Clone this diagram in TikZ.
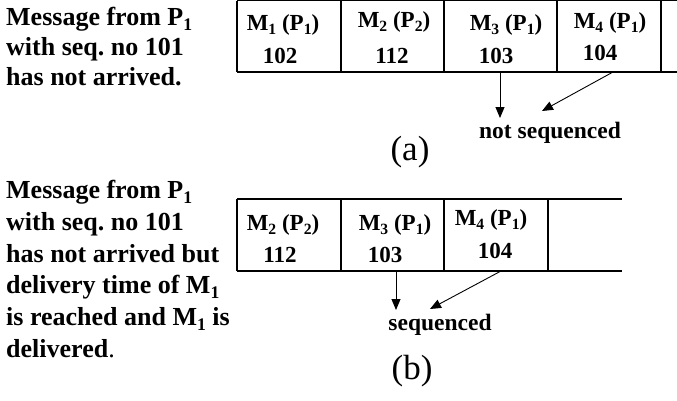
\documentclass[tikz,border=0pt]{standalone}
\usepackage{fontspec}
\usepackage{graphicx}
\setmainfont{Liberation Serif}
\usetikzlibrary{arrows.meta}
\newcommand\sbs[1]{\raisebox{-0.2em}{\scalebox{0.68}{#1}}}
\frenchspacing
\begin{document}
\begin{tikzpicture}[x=1pt,y=-1pt,
  lefttext/.style={anchor=base west,inner sep=0pt,font=\fontsize{26}{30}\selectfont\bfseries},
  celltext/.style={anchor=base,inner sep=0pt,font=\fontsize{23}{27}\selectfont\bfseries},
  labeltext/.style={anchor=base,inner sep=0pt,font=\fontsize{23.5}{27}\selectfont\bfseries},
  captext/.style={anchor=base,inner sep=0pt,font=\fontsize{35}{40}\selectfont},
  tableline/.style={line width=1.1pt},
  arr/.style={line width=0.9pt,-{Triangle[length=11pt,width=9pt]}}]
\useasboundingbox (0,0) rectangle (677,400);

% ---------- (a) ----------
\node[lefttext] (ta1) at (6,25) {Message from P\sbs{1}};
\node[lefttext] (ta2) at (6,55) {with seq. no 101};
\node[lefttext] (ta3) at (6,85) {has not arrived.};

\draw[tableline] (237,0.8) -- (677,0.8);
\draw[tableline] (237,72) -- (677,72);
\foreach \x in {237,341,444,557,661} \draw[tableline] (\x,0.8) -- (\x,72);

\node[celltext] (a1m) at (283,30) {M\sbs{1} (P\sbs{1})};
\node[celltext] (a1n) at (280,63) {102};
\node[celltext] (a2m) at (394,27) {M\sbs{2} (P\sbs{2})};
\node[celltext] (a2n) at (392,63) {112};
\node[celltext] (a3m) at (506,30) {M\sbs{3} (P\sbs{1})};
\node[celltext] (a3n) at (496,63) {103};
\node[celltext] (a4m) at (610,28) {M\sbs{4} (P\sbs{1})};
\node[celltext] (a4n) at (600,60) {104};

\coordinate (a3b) at (500,72);
\coordinate (a4b) at (613,72);
\node[labeltext] (ans) at (550,138) {not sequenced};
\coordinate (ansA) at (500,118);
\coordinate (ansB) at (542,111);
\draw[arr] (a3b) -- (ansA);
\draw[arr] (a4b) -- (ansB);

\node[captext] (capa) at (410,160) {(a)};

% ---------- (b) ----------
\node[lefttext] (tb1) at (6,198) {Message from P\sbs{1}};
\node[lefttext] (tb2) at (6,230) {with seq. no 101};
\node[lefttext] (tb3) at (6,262) {has not arrived but};
\node[lefttext] (tb4) at (6,293) {delivery time of M\sbs{1}};
\node[lefttext] (tb5) at (6,325) {is reached and M\sbs{1} is};
\node[lefttext] (tb6) at (6,357) {delivered\mdseries.};

\draw[tableline] (237,199) -- (622,199);
\draw[tableline] (237,271) -- (622,271);
\foreach \x in {237,341,444,548} \draw[tableline] (\x,199) -- (\x,271);

\node[celltext] (b1m) at (283,230) {M\sbs{2} (P\sbs{2})};
\node[celltext] (b1n) at (280,262) {112};
\node[celltext] (b2m) at (395,230) {M\sbs{3} (P\sbs{1})};
\node[celltext] (b2n) at (385,262) {103};
\node[celltext] (b3m) at (491,225) {M\sbs{4} (P\sbs{1})};
\node[celltext] (b3n) at (495,258) {104};

\coordinate (b2b) at (396,271);
\coordinate (b3b) at (501,271);
\node[labeltext] (bs) at (440,330) {sequenced};
\coordinate (bsA) at (396,310);
\coordinate (bsB) at (430,309);
\draw[arr] (b2b) -- (bsA);
\draw[arr] (b3b) -- (bsB);

\node[captext] (capb) at (412,379) {(b)};
\end{tikzpicture}
\end{document}
